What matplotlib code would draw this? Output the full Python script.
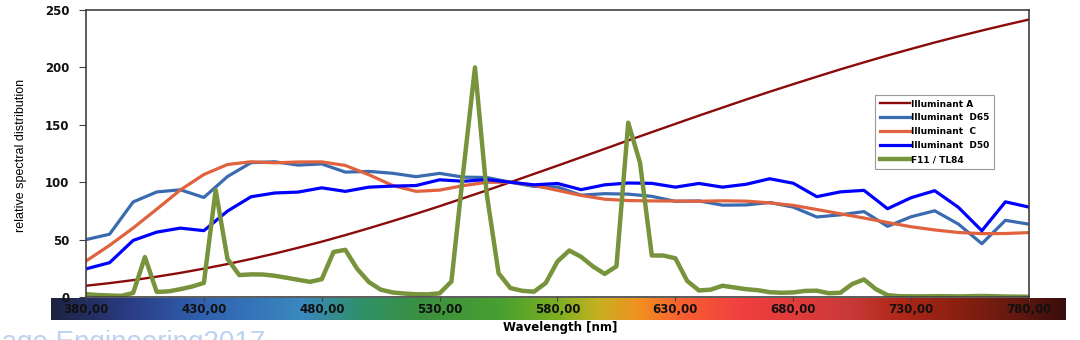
import matplotlib.pyplot as plt
import numpy as np
from matplotlib.colors import LinearSegmentedColormap

# wavelength grids (nm)
wl10 = np.arange(380, 781, 10)
wl5 = np.arange(380, 781, 5)

illum_a = [9.8, 12.1, 14.7, 17.7, 21.0, 24.7, 28.7, 33.1, 37.8, 42.9,
           48.2, 53.9, 59.9, 66.1, 72.5, 79.1, 86.0, 92.9, 100.0, 107.2,
           114.4, 121.7, 129.0, 136.4, 143.6, 150.8, 158.0, 165.0, 172.0, 178.8,
           185.4, 191.9, 198.3, 204.4, 210.4, 216.1, 221.7, 227.0, 232.1, 237.0,
           241.7]
illum_d65 = [50.0, 54.7, 82.8, 91.5, 93.4, 86.7, 104.9, 117.0, 117.8, 114.9,
             115.9, 108.8, 109.4, 107.8, 104.8, 107.7, 104.4, 104.1, 100.0, 96.3,
             95.8, 88.7, 90.0, 89.6, 87.7, 83.3, 83.7, 80.0, 80.2, 82.3,
             78.3, 69.7, 71.6, 74.4, 61.6, 69.9, 75.1, 63.6, 46.4, 66.8,
             63.4]
illum_c = [31.3, 45.0, 60.1, 76.5, 93.2, 106.7, 115.4, 117.8, 116.9, 117.6,
           117.7, 114.6, 106.5, 97.2, 92.0, 93.1, 97.0, 99.9, 100.0, 97.2,
           92.9, 88.5, 85.2, 84.0, 83.7, 83.6, 83.4, 83.8, 83.5, 82.0,
           79.8, 76.2, 72.5, 68.8, 64.9, 61.2, 58.4, 56.2, 55.2, 55.3,
           56.1]
illum_d50 = [24.5, 29.9, 49.3, 56.5, 60.0, 57.8, 74.8, 87.3, 90.6, 91.4,
             95.1, 92.0, 95.7, 96.6, 97.1, 102.1, 100.8, 102.3, 100.0, 97.7,
             98.9, 93.5, 97.7, 99.3, 99.0, 95.7, 98.9, 95.7, 98.2, 103.0,
             99.1, 87.4, 91.6, 92.9, 76.9, 86.5, 92.6, 78.2, 57.7, 82.9,
             78.3]
f11 = [2.5, 1.7, 1.3, 1.0, 3.5, 34.8, 4.4, 4.9, 6.8, 9.1,
       12.3, 93.2, 33.3, 19.1, 19.7, 19.6, 18.5, 16.8, 15.0, 13.2,
       15.5, 39.2, 41.1, 24.6, 13.0, 6.4, 4.0, 3.0, 2.4, 2.3,
       3.2, 13.5, 108.7, 200.0, 89.5, 20.7, 7.8, 5.4, 4.6, 12.2,
       31.0, 40.5, 35.0, 26.7, 20.1, 26.7, 151.8, 116.9, 36.2, 36.1,
       33.7, 14.0, 5.7, 6.4, 9.8, 8.3, 6.8, 5.9, 4.2, 3.7,
       4.0, 5.3, 5.5, 3.3, 3.7, 11.3, 15.3, 6.9, 1.6, 0.7,
       0.6, 0.6, 0.7, 0.7, 0.5, 0.7, 0.9, 0.7, 0.4, 0.3,
       0.2]

xticks = np.arange(380, 781, 50)
yticks = np.arange(0, 251, 50)

W, H = 1080, 340
fig = plt.figure(figsize=(W / 100, H / 100), dpi=100)

# spectrum colour bar under the axis
spec_cmap = LinearSegmentedColormap.from_list('spec', [
    (0.00, '#1c2340'), (0.07, '#2a3a80'), (0.147, '#3060b0'), (0.246, '#3a88c0'),
    (0.305, '#2f9068'), (0.364, '#3a9040'), (0.443, '#48a030'), (0.502, '#80b020'),
    (0.541, '#c8b020'), (0.580, '#f09020'), (0.620, '#f86030'), (0.679, '#f04040'),
    (0.738, '#e03a3a'), (0.788, '#c83a3a'), (0.837, '#b02818'), (0.897, '#882010'),
    (0.956, '#601810'), (1.00, '#3a0c0c')])
bar = fig.add_axes([51 / W, 1 - 320 / H, (1066 - 51) / W, 22 / H])
bar.imshow(np.linspace(0, 1, 512)[None, :], aspect='auto', cmap=spec_cmap)
bar.axis('off')

ax = fig.add_axes([86 / W, 1 - 297 / H, (1029 - 86) / W, 287 / H])
ax.plot(wl10, illum_a, color='#8b0a0a', lw=1.7, label='Illuminant A')
ax.plot(wl10, illum_d65, color='#3a6bb0', lw=2.3, label='Illuminant  D65')
ax.plot(wl10, illum_c, color='#e0623e', lw=2.3, label='Illuminant  C')
ax.plot(wl10, illum_d50, color='#0000ff', lw=2.3, label='Illuminant  D50')
ax.plot(wl5, f11, color='#77933c', lw=3.2, label='F11 / TL84', solid_joinstyle='round')

ax.set_xlim(380, 780)
ax.set_ylim(0, 250)
ax.set_xticks(xticks)
ax.set_xticklabels(['%d,00' % v for v in xticks])
ax.set_yticks(yticks)
for s in ax.spines.values():
    s.set_color('#404040')
    s.set_linewidth(1.2)
ax.tick_params(axis='x', length=3, pad=1.5, color='#404040')
ax.tick_params(axis='y', length=5, pad=7, color='#404040')
for lab in ax.get_xticklabels() + ax.get_yticklabels():
    lab.set_fontsize(8.5)
    lab.set_fontweight('bold')
    lab.set_color('#111111')

fig.text(560 / W, 1 - 327 / H, 'Wavelength [nm]', ha='center', va='center',
         fontsize=8.5, fontweight='bold')
fig.text(21 / W, 1 - 155 / H, 'relative spectral distribution', rotation=90,
         ha='center', va='center', fontsize=9,
         family=['Liberation Sans Narrow', 'Liberation Sans'])

leg = ax.legend(loc='upper left', bbox_to_anchor=(875 / W, 1 - 95 / H),
                bbox_transform=fig.transFigure, fancybox=False,
                prop={'size': 6.5, 'weight': 'bold'}, handlelength=3.4,
                handletextpad=0.1, labelspacing=0.55, borderpad=0.5,
                borderaxespad=0)
leg.get_frame().set_edgecolor('#808080')
leg.get_frame().set_linewidth(0.8)

# faded watermark at the lower left
fig.text(265 / W, 1 - 330 / H, 'Image Engineering2017', ha='right', va='top',
         fontsize=20, color='#bcd2f0', family='Liberation Sans')

fig.savefig('out.png', dpi=100)
